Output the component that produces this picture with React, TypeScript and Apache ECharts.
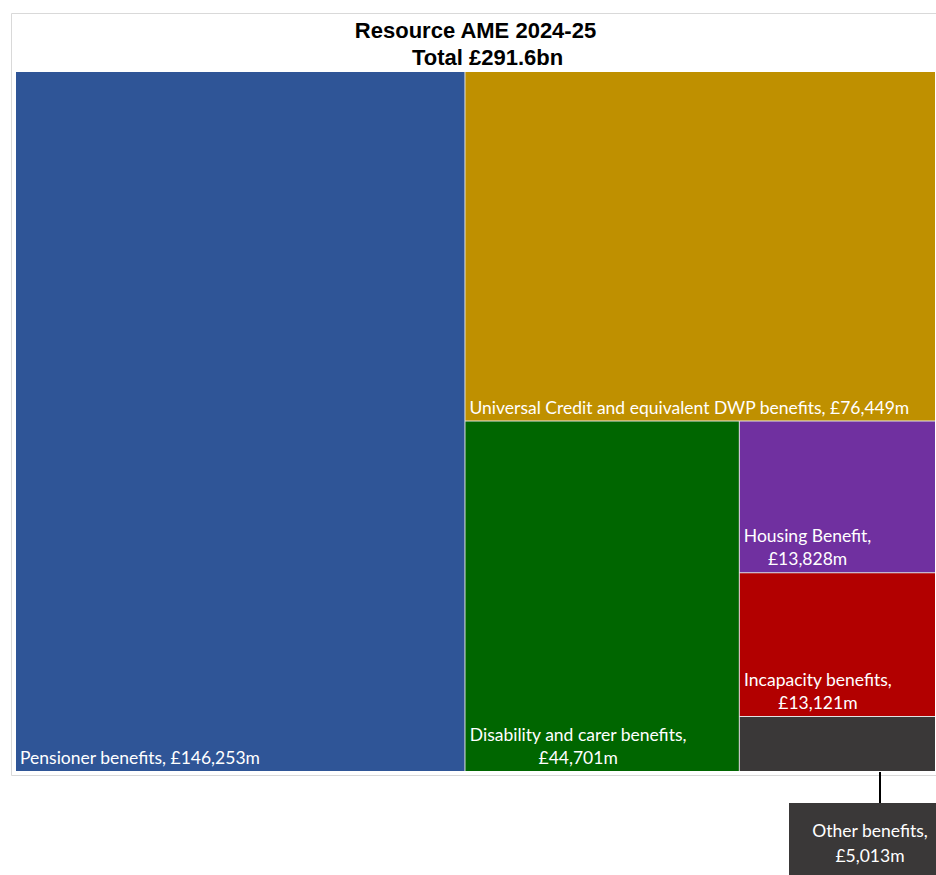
import React, { useEffect, useRef } from 'react';
import * as echarts from 'echarts';

const titleLines = ['Resource AME 2024-25', 'Total £291.6bn'];
const categories = [
  'Pensioner benefits',
  'Universal Credit and equivalent DWP benefits',
  'Disability and carer benefits',
  'Housing Benefit',
  'Incapacity benefits',
  'Other benefits',
];
const values = [146253, 76449, 44701, 13828, 13121, 5013];
const colors = ['#2F5597', '#BF9000', '#006600', '#7030A0', '#B20000', '#3A3838'];
const wrappedLabels = ['Disability and carer benefits', 'Housing Benefit', 'Incapacity benefits'];
const calloutCategory = 'Other benefits';

const LABEL_FONT = 'Lato';
const LABEL_SIZE = 17.5;

function fmt(v: number): string {
  return '£' + v.toLocaleString('en-GB') + 'm';
}

function textWidth(s: string): number {
  const ctx = document.createElement('canvas').getContext('2d');
  if (!ctx) return s.length * 8;
  ctx.font = `${LABEL_SIZE}px ${LABEL_FONT}`;
  return ctx.measureText(s).width;
}

export default function App() {
  const ref = useRef<HTMLDivElement>(null);
  useEffect(() => {
    if (!ref.current) return;
    const chart = echarts.init(ref.current, undefined, { renderer: 'svg' });

    const data = categories.map((name, i) => {
      const valueText = fmt(values[i]);
      let label: any;
      if (name === calloutCategory) {
        label = { show: false };
      } else if (wrappedLabels.includes(name)) {
        const line1 = `${name},`;
        label = {
          position: [4 + textWidth(line1) / 2, '100%'],
          align: 'center',
          verticalAlign: 'bottom',
          formatter: `${line1}\n${valueText}`,
        };
      } else {
        label = {
          position: [4, '100%'],
          align: 'left',
          verticalAlign: 'bottom',
          formatter: `${name}, ${valueText}`,
        };
      }
      return { name, value: values[i], itemStyle: { color: colors[i] }, label };
    });

    const ci = categories.indexOf(calloutCategory);
    const calloutText = `${categories[ci]},\n${fmt(values[ci])}`;

    chart.setOption({
      animation: false,
      title: [
        {
          text: titleLines[0],
          left: 475.5,
          top: 19,
          padding: 0,
          textAlign: 'center',
          textStyle: { fontFamily: 'Liberation Sans, Arial', fontWeight: 'bold', fontSize: 22, color: '#000' },
        },
        {
          text: titleLines[1],
          left: 487.5,
          top: 46,
          padding: 0,
          textAlign: 'center',
          textStyle: { fontFamily: 'Liberation Sans, Arial', fontWeight: 'bold', fontSize: 22, color: '#000' },
        },
      ],
      graphic: [
        {
          type: 'rect',
          z: -10,
          silent: true,
          shape: { x: 11.5, y: 13.5, width: 940, height: 762 },
          style: { fill: 'none', stroke: '#d9d9d9', lineWidth: 1 },
        },
        {
          type: 'line',
          silent: true,
          shape: { x1: 880, y1: 772, x2: 880, y2: 803 },
          style: { stroke: '#000', lineWidth: 2 },
        },
        {
          type: 'rect',
          silent: true,
          shape: { x: 789, y: 803, width: 160, height: 100 },
          style: { fill: colors[ci] },
        },
        {
          type: 'text',
          silent: true,
          x: 870,
          y: 843,
          style: {
            text: calloutText,
            fill: '#fff',
            font: `${LABEL_SIZE}px ${LABEL_FONT}`,
            lineHeight: 25,
            align: 'center',
            verticalAlign: 'middle',
          },
        },
      ],
      series: [
        {
          type: 'treemap',
          left: 16,
          top: 72,
          width: 919,
          height: 699,
          squareRatio: 1,
          roam: false,
          nodeClick: false,
          breadcrumb: { show: false },
          label: {
            show: true,
            color: '#fff',
            fontFamily: LABEL_FONT,
            fontSize: LABEL_SIZE,
            lineHeight: 23,
            padding: 0,
            overflow: 'none',
            offset: [0, -2],
          },
          itemStyle: { borderWidth: 0, gapWidth: 1, borderColor: '#e2e2e2' },
          levels: [
            { itemStyle: { borderWidth: 0, gapWidth: 1, borderColor: '#e2e2e2' } },
            { itemStyle: { borderWidth: 0, gapWidth: 0 } },
          ],
          data,
        },
      ],
    });
    return () => chart.dispose();
  }, []);
  return (
    <div
      ref={ref}
      style={{ position: 'absolute', left: 0, top: 0, width: 936, height: 875 }}
    />
  );
}
